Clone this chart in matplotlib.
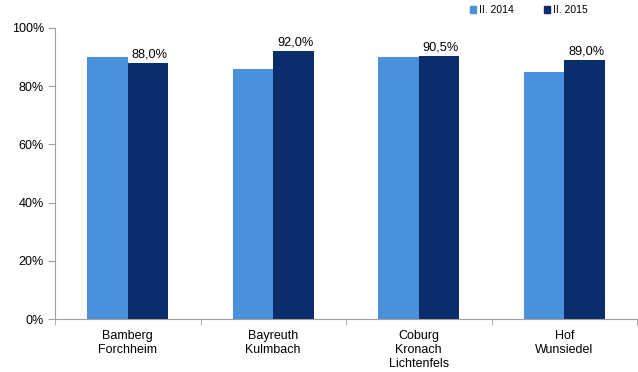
import matplotlib
matplotlib.use("Agg")
import matplotlib.pyplot as plt
import numpy as np
from matplotlib.patches import Patch

plt.rcParams['font.family'] = ['Liberation Sans', 'DejaVu Sans']

categories = ["Bamberg\nForchheim", "Bayreuth\nKulmbach", "Coburg\nKronach\nLichtenfels", "Hof\nWunsiedel"]
series_names = ["II. 2014", "II. 2015"]
values_2014 = [90.0, 86.0, 90.0, 85.0]
values_2015 = [88.0, 92.0, 90.5, 89.0]
labels_2015 = ["88,0%", "92,0%", "90,5%", "89,0%"]
yticks = [0, 20, 40, 60, 80, 100]
ytick_labels = ["0%", "20%", "40%", "60%", "80%", "100%"]

c_light = "#4A90DB"
c_dark = "#0B2D6B"

fig = plt.figure(figsize=(6.38, 3.72), dpi=100)
ax = fig.add_axes([55/638, 1-319/372, (637-55)/638, (319-28)/372])

x = np.arange(len(categories))
w = 0.28
ax.bar(x - w/2, values_2014, width=w, color=c_light)
bars2 = ax.bar(x + w/2, values_2015, width=w, color=c_dark)
for b, lab in zip(bars2, labels_2015):
    ax.text(b.get_x() + b.get_width()/2 + 0.01, b.get_height() + 0.8, lab,
            ha="center", va="bottom", fontsize=9.2, color="#000000")

ax.set_xlim(-0.5, len(categories) - 0.5)
ax.set_ylim(0, 100)
ax.set_yticks(yticks)
ax.set_yticklabels(ytick_labels, fontsize=9)
ax.set_xticks(x)
ax.set_xticklabels(categories, fontsize=9)
ax.set_xticks(np.arange(len(categories) + 1) - 0.5, minor=True)
ax.tick_params(axis="x", which="major", length=0, pad=8)
ax.tick_params(axis="x", which="minor", length=4, color="#A0A0A0")
ax.tick_params(axis="y", length=5, color="#A0A0A0", pad=3)

for s in ["top", "right"]:
    ax.spines[s].set_visible(False)
for s in ["left", "bottom"]:
    ax.spines[s].set_color("#A0A0A0")
    ax.spines[s].set_linewidth(0.8)

handles = [Patch(color=c_light), Patch(color=c_dark)]
fig.legend(handles, series_names, loc="center", bbox_to_anchor=(529/638, 1-10/372),
           ncol=2, frameon=False, fontsize=7.5, handlelength=0.6, handleheight=0.6,
           columnspacing=2.9, handletextpad=0.3)

fig.savefig("out.png", dpi=100)
